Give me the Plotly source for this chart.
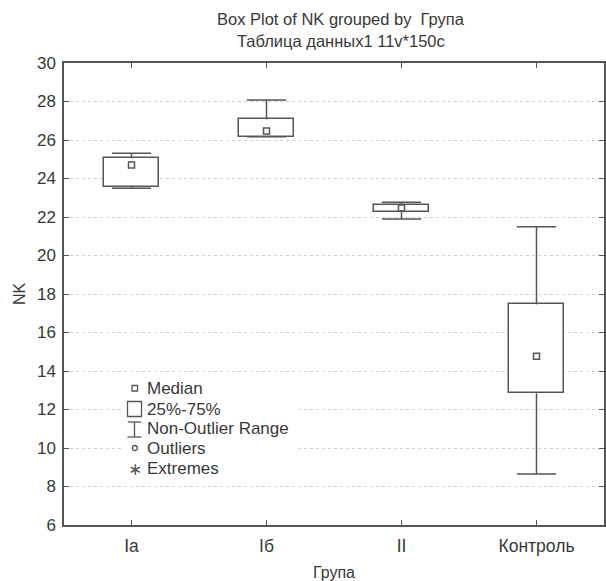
import plotly.graph_objects as go

# ---- data ----
groups = ["Ia", "Iб", "II", "Контроль"]
median = [24.70, 26.47, 22.47, 14.76]
q1 = [23.57, 26.17, 22.26, 12.84]
q3 = [25.05, 27.07, 22.64, 17.46]
whisker_low = [23.49, 26.17, 21.90, 8.65]
whisker_high = [25.31, 28.08, 22.76, 21.50]
y_ticks = [6, 8, 10, 12, 14, 16, 18, 20, 22, 24, 26, 28, 30]

legend_labels = ["Median", "25%-75%", "Non-Outlier Range", "Outliers", "Extremes"]

W, H = 606, 581
ML, MR, MT, MB = 64, 2, 63, 56
LINE = "#555555"
TXT = "#383838"
FONT = "Liberation Sans, Arial, sans-serif"

fig = go.Figure()

# boxes 25%-75%
fig.add_trace(go.Bar(
    x=groups, base=q1, y=[b - a for a, b in zip(q1, q3)], width=0.41,
    marker=dict(color="white", line=dict(color=LINE, width=1.5)),
    hoverinfo="skip", showlegend=False))

# whisker stems
wx, wy = [], []
for g, lo, a, b, hi in zip(groups, whisker_low, q1, q3, whisker_high):
    wx += [g, g, None, g, g, None]
    wy += [b, hi, None, a, lo, None]
fig.add_trace(go.Scatter(
    x=wx, y=wy, mode="lines", line=dict(color=LINE, width=1.5),
    hoverinfo="skip", showlegend=False, connectgaps=False))

# whisker caps
fig.add_trace(go.Scatter(
    x=groups + groups, y=whisker_high + whisker_low, mode="markers",
    marker=dict(symbol="line-ew", size=28, line=dict(color=LINE, width=1.5)),
    hoverinfo="skip", showlegend=False))

# medians
fig.add_trace(go.Scatter(
    x=groups, y=median, mode="markers",
    marker=dict(symbol="square-open", size=6, color=LINE, line=dict(width=1.5, color=LINE)),
    showlegend=False))

pw = W - ML - MR
ph = H - MT - MB


def px(x):
    return (x - ML) / pw


def py(y):
    return (H - MB - y) / ph


shapes = []
# legend background
shapes.append(dict(type="rect", xref="paper", yref="paper", x0=px(123), x1=px(295),
                   y0=py(478), y1=py(378), fillcolor="white", line=dict(width=0), layer="above"))
# median icon
shapes.append(dict(type="rect", xref="paper", yref="paper", x0=px(132), x1=px(137.5),
                   y0=py(391), y1=py(385.5), line=dict(color=LINE, width=1.3), layer="above"))
# box icon
shapes.append(dict(type="rect", xref="paper", yref="paper", x0=px(127.5), x1=px(141.5),
                   y0=py(416.5), y1=py(401.5), line=dict(color=LINE, width=1.3), layer="above"))
# I-beam icon
shapes.append(dict(type="line", xref="paper", yref="paper", x0=px(134.5), x1=px(134.5),
                   y0=py(437), y1=py(422), line=dict(color=LINE, width=1.3), layer="above"))
shapes.append(dict(type="line", xref="paper", yref="paper", x0=px(128), x1=px(141),
                   y0=py(422), y1=py(422), line=dict(color=LINE, width=1.3), layer="above"))
shapes.append(dict(type="line", xref="paper", yref="paper", x0=px(127.5), x1=px(141.5),
                   y0=py(437), y1=py(437), line=dict(color=LINE, width=1.3), layer="above"))
# outlier icon
shapes.append(dict(type="circle", xref="paper", yref="paper", x0=px(132.3), x1=px(137.3),
                   y0=py(450.5), y1=py(445.5), line=dict(color=LINE, width=1.3), layer="above"))

annotations = []
rows_y = [388, 409, 428, 448, 468]
for lab, yy in zip(legend_labels, rows_y):
    annotations.append(dict(text=lab, xref="paper", yref="paper", x=px(145), y=py(yy),
                            xanchor="left", yanchor="middle", showarrow=False,
                            font=dict(size=17, color=TXT, family=FONT)))
annotations.append(dict(text="∗", xref="paper", yref="paper", x=px(135), y=py(469),
                        xanchor="center", yanchor="middle", showarrow=False,
                        font=dict(size=17, color=LINE, family="DejaVu Sans")))
# title
annotations.append(dict(text="Box Plot of NK grouped by\u00a0 Група", xref="paper", yref="paper",
                        x=px(341), y=py(19), xanchor="center", yanchor="middle", showarrow=False,
                        font=dict(size=16.5, color=TXT, family=FONT)))
annotations.append(dict(text="Таблица данных1 11v*150c", xref="paper", yref="paper",
                        x=px(341), y=py(41), xanchor="center", yanchor="middle", showarrow=False,
                        font=dict(size=16.5, color=TXT, family=FONT)))

fig.update_layout(
    width=W, height=H,
    margin=dict(l=ML, r=MR, t=MT, b=MB, autoexpand=False),
    paper_bgcolor="white", plot_bgcolor="white",
    font=dict(family=FONT, size=17, color=TXT),
    bargap=0,
    shapes=shapes, annotations=annotations,
    showlegend=False,
)
fig.update_xaxes(
    type="category", range=[-0.5, 3.5], automargin=False,
    showline=True, linecolor=LINE, linewidth=1.5, mirror="ticks",
    ticks="inside", ticklen=5, tickcolor=LINE, tickwidth=1,
    showgrid=False, zeroline=False,
    ticklabelstandoff=4,
    title=dict(text="Група", font=dict(size=16, color=TXT), standoff=16),
    tickfont=dict(size=17.5, color=TXT),
)
fig.update_yaxes(
    range=[6, 30], tickvals=y_ticks, ticktext=[str(v) for v in y_ticks], automargin=False,
    showline=True, linecolor=LINE, linewidth=1.5, mirror="ticks",
    ticks="inside", ticklen=5, tickcolor=LINE, tickwidth=1,
    showgrid=True, gridcolor="#cfcfcf", griddash="dot", gridwidth=1,
    zeroline=False,
    ticklabelstandoff=3,
    title=dict(text="NK", font=dict(size=16, color=TXT), standoff=7),
    tickfont=dict(size=17, color=TXT),
)

fig.write_html("out.html", config={"displayModeBar": False},
               post_script="document.body.style.margin='0';")
